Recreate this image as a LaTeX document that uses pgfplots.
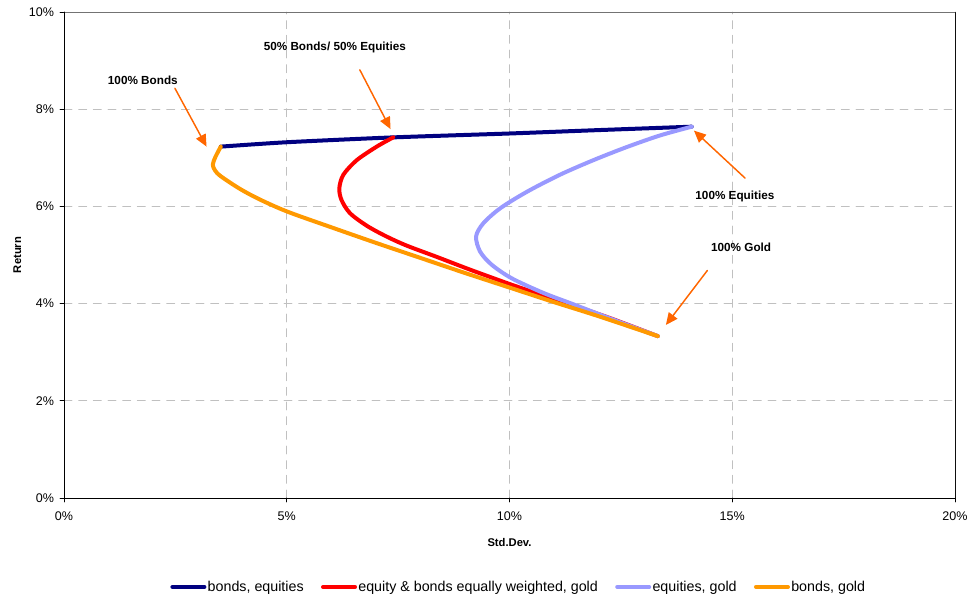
\documentclass[border=0pt]{standalone}
\usepackage{pgfplots}
\pgfplotsset{compat=1.18}
\usepackage{fontspec}
\setmainfont{Liberation Sans}
\usetikzlibrary{arrows.meta}
\definecolor{cnavy}{HTML}{000080}
\definecolor{cred}{HTML}{FF0000}
\definecolor{clblue}{HTML}{9999FF}
\definecolor{corange}{HTML}{FF9900}
\definecolor{carrow}{HTML}{FF6600}
\definecolor{cgrid}{HTML}{C0C0C0}
\begin{document}
\begin{tikzpicture}
\path[use as bounding box] (-48pt,-75pt) rectangle (681pt,373.5pt);
\begin{axis}[
  at={(0pt,0pt)}, anchor=south west,
  scale only axis, width=668.25pt, height=364.5pt,
  xmin=0, xmax=20, ymin=0, ymax=10,
  xtick={0,5,10,15,20}, xticklabels={0\%,5\%,10\%,15\%,20\%},
  ytick={0,2,4,6,8,10}, yticklabels={0\%,2\%,4\%,6\%,8\%,10\%},
  tick align=outside, major tick length=3pt,
  tick style={black, line width=0.6pt},
  xtick pos=bottom, ytick pos=left,
  ticklabel style={font=\fontsize{9.4}{11}\selectfont},
  xticklabel style={yshift=-4pt},
  yticklabel style={xshift=-1pt},
  grid=major,
  major grid style={cgrid, dashed, dash pattern=on 6pt off 5pt, line width=0.6pt},
  axis line style={black, line width=0.7pt},
  xlabel={Std.Dev.}, ylabel={Return},
  label style={font=\bfseries\fontsize{8.4}{10}\selectfont},
  xlabel style={at={(axis description cs:0.5,0)}, anchor=center, yshift=-33.75pt},
  ylabel style={at={(axis description cs:0,0.5)}, anchor=center, rotate=0, xshift=0pt, yshift=35pt},
  legend columns=4,
  legend style={draw=none, fill=none, at={(0.51,-0.183)}, anchor=center,
    font=\fontsize{10.7}{12}\selectfont,
    nodes={inner sep=1pt},
    /tikz/every even column/.append style={column sep=12pt}},
  legend image code/.code={\draw[#1, line width=3pt, line cap=round] (0pt,0pt) -- (24pt,0pt);},
  line cap=round, line join=round,
]
\addplot[cnavy, line width=3pt, smooth, tension=0.4] coordinates {
(3.52,7.23) (5.00,7.32) (7.39,7.42) (10.00,7.50) (12.00,7.57) (14.09,7.64)
};
\addlegendentry{bonds, equities}
\addplot[cred, line width=3pt, smooth, tension=0.5] coordinates {
(7.39,7.42) (7.02,7.23) (6.57,6.95) (6.27,6.65) (6.18,6.37) (6.23,6.13)
(6.42,5.86) (6.80,5.60) (7.24,5.38) (7.70,5.19) (8.37,4.96) (9.11,4.70)
(10.01,4.40) (10.46,4.26) (11.20,4.03) (12.20,3.72) (13.33,3.33)
};
\addlegendentry{equity \& bonds equally weighted, gold}
\addplot[clblue, line width=3pt, smooth, tension=0.5] coordinates {
(14.09,7.64) (13.38,7.46) (12.63,7.22) (11.88,6.95) (11.13,6.65) (10.39,6.30)
(9.79,5.96) (9.41,5.65) (9.25,5.38) (9.34,5.07) (9.60,4.80) (10.05,4.52)
(10.76,4.22) (11.45,3.98) (12.30,3.68) (13.33,3.33)
};
\addlegendentry{equities, gold}
\addplot[corange, line width=3pt, smooth, tension=0.5] coordinates {
(3.52,7.23) (3.40,7.02) (3.34,6.86) (3.39,6.74) (3.52,6.62) (3.95,6.36)
(4.40,6.14) (5.02,5.89) (6.00,5.57) (7.00,5.25) (8.00,4.94) (9.00,4.63)
(10.00,4.33) (11.00,4.03) (12.00,3.74) (13.33,3.33)
};
\addlegendentry{bonds, gold}
\draw[cgrid!60!black, line width=0.7pt] (rel axis cs:0,1) -- (rel axis cs:1,1) -- (rel axis cs:1,0);
\draw[black, line width=0.7pt] (rel axis cs:0,1) -- (rel axis cs:0,0) -- (rel axis cs:1,0);
\begin{scope}[every node/.style={font=\bfseries\fontsize{8.8}{10}\selectfont, inner sep=0pt}]
\node at (axis cs:1.77,8.60) {100\% Bonds};
\node at (axis cs:6.08,9.28) {50\% Bonds/ 50\% Equities};
\node at (axis cs:15.06,6.21) {100\% Equities};
\node at (axis cs:15.20,5.16) {100\% Gold};
\end{scope}
\begin{scope}[carrow, line width=1.1pt, -{Triangle[length=9pt,width=8pt]}]
\draw (axis cs:2.49,8.43) -- (axis cs:3.20,7.23);
\draw (axis cs:6.64,8.81) -- (axis cs:7.33,7.59);
\draw (axis cs:15.29,6.58) -- (axis cs:14.14,7.56);
\draw (axis cs:14.44,4.68) -- (axis cs:13.51,3.56);
\end{scope}
\end{axis}
\end{tikzpicture}
\end{document}
